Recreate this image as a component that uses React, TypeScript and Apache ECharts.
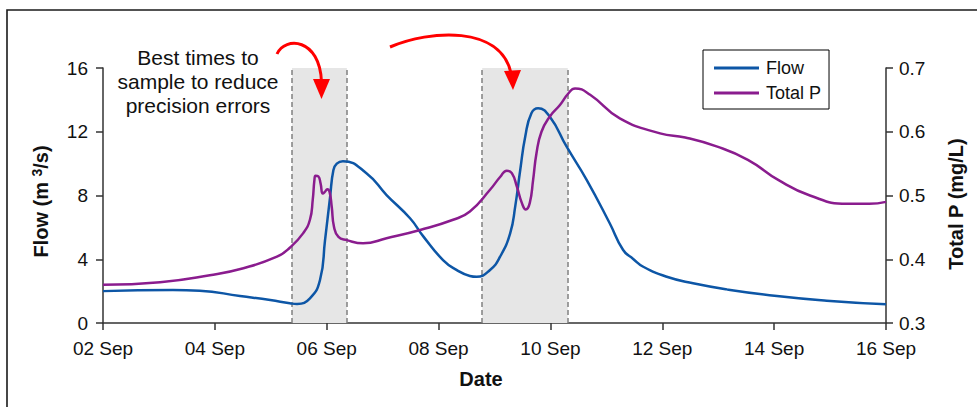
import React, { useEffect, useRef } from "react";
import * as echarts from "echarts";

const FONT = "'Liberation Sans', Arial, sans-serif";

const xTicks = { min: 2, max: 16, interval: 2 };
const flowTicks = { min: 0, max: 16, interval: 4 };
const pTicks = { min: 0.3, max: 0.7, interval: 0.1 };

const flowDays = [2.0, 3.25, 3.73, 4.45, 4.99, 5.34, 5.47, 5.7, 5.88, 5.97, 6.06, 6.12, 6.18, 6.29, 6.71, 7.07, 7.49, 7.73, 8.08, 8.32, 8.56, 8.68, 8.92, 9.1, 9.28, 9.37, 9.46, 9.55, 9.66, 9.78, 9.99, 10.29, 10.65, 11.06, 11.3, 11.48, 11.66, 12.08, 12.55, 13.15, 14.05, 14.94, 16.0];
const flowValues = [2.0, 2.07, 2.03, 1.69, 1.44, 1.24, 1.19, 1.55, 2.7, 5.2, 7.9, 9.6, 10.0, 10.15, 9.4, 8.03, 6.57, 5.42, 3.95, 3.33, 2.95, 2.9, 3.33, 4.16, 5.63, 7.3, 9.6, 11.7, 13.16, 13.47, 12.94, 11.06, 8.97, 6.26, 4.58, 4.02, 3.53, 2.9, 2.49, 2.11, 1.69, 1.4, 1.17];

const pDays = [2.0, 3.02, 3.91, 4.51, 5.11, 5.34, 5.58, 5.7, 5.75, 5.78, 5.8, 5.85, 5.89, 5.93, 5.97, 6.01, 6.05, 6.09, 6.13, 6.21, 6.36, 6.65, 7.07, 7.67, 8.26, 8.56, 8.92, 9.1, 9.22, 9.31, 9.4, 9.49, 9.56, 9.63, 9.69, 9.75, 9.84, 9.99, 10.17, 10.32, 10.44, 10.71, 11.24, 11.96, 12.41, 12.97, 13.53, 14.08, 14.64, 15.3, 15.7, 16.0];
const pValues = [0.36, 0.364, 0.375, 0.386, 0.404, 0.418, 0.441, 0.462, 0.493, 0.524, 0.531, 0.53, 0.519, 0.503, 0.506, 0.51, 0.506, 0.482, 0.451, 0.435, 0.43, 0.425, 0.433, 0.446, 0.462, 0.475, 0.509, 0.529, 0.539, 0.535, 0.514, 0.488, 0.478, 0.488, 0.524, 0.566, 0.6, 0.624, 0.642, 0.66, 0.668, 0.658, 0.621, 0.5975, 0.591, 0.577, 0.556, 0.524, 0.5, 0.487, 0.487, 0.49];

// sampling windows (day of September)
const windows = [
  [5.38, 6.36],
  [8.78, 10.31],
];

const seriesNames = ["Flow", "Total P"];
const annotationLines = ["Best times to", "sample to reduce", "precision errors"];

export default function App() {
  const ref = useRef<HTMLDivElement>(null);

  useEffect(() => {
    document.body.style.margin = "0";
    const chart = echarts.init(ref.current as HTMLDivElement, null, { renderer: "svg" });

    const axisLine = { show: true, lineStyle: { color: "#333", width: 1.5 } };
    const axisTick = { show: true, length: 7, lineStyle: { color: "#333", width: 1.5 } };
    const label = { fontFamily: FONT, fontSize: 19, color: "#111" };

    chart.setOption({
      animation: false,
      backgroundColor: "#fff",
      textStyle: { fontFamily: FONT },
      grid: { left: 103, right: 91, top: 68, bottom: 84, containLabel: false },
      legend: {
        orient: "vertical",
        left: 703,
        top: 50,
        padding: [9, 8, 7, 11],
        itemGap: 7,
        itemWidth: 45,
        itemHeight: 3,
        icon: "rect",
        borderColor: "#000",
        borderWidth: 1,
        textStyle: { fontFamily: FONT, fontSize: 18, color: "#111", padding: [0, 0, 0, 2] },
        data: seriesNames,
      },
      xAxis: {
        type: "value",
        min: xTicks.min,
        max: xTicks.max,
        interval: xTicks.interval,
        axisLine,
        axisTick,
        splitLine: { show: false },
        axisLabel: {
          ...label,
          margin: 16,
          formatter: (v: number) => (v < 10 ? "0" : "") + v + " Sep",
        },
      },
      yAxis: [
        {
          type: "value",
          position: "left",
          min: flowTicks.min,
          max: flowTicks.max,
          interval: flowTicks.interval,
          axisLine,
          axisTick,
          splitLine: { show: false },
          axisLabel: { ...label, margin: 15 },
        },
        {
          type: "value",
          position: "right",
          min: pTicks.min,
          max: pTicks.max,
          interval: pTicks.interval,
          axisLine,
          axisTick,
          splitLine: { show: false },
          axisLabel: { ...label, margin: 13, formatter: (v: number) => v.toFixed(1) },
        },
      ],
      series: [
        {
          name: "windows",
          type: "line",
          data: [],
          z: 1,
          silent: true,
          markArea: {
            silent: true,
            itemStyle: { color: "#e6e6e6" },
            data: windows.map((w) => [{ xAxis: w[0] }, { xAxis: w[1] }]),
          },
          markLine: {
            silent: true,
            symbol: "none",
            z: 1,
            label: { show: false },
            lineStyle: { color: "#808080", type: [5, 3], width: 1.5 },
            data: windows.flat().map((x) => ({ xAxis: x })),
          },
        },
        {
          name: seriesNames[0],
          type: "line",
          yAxisIndex: 0,
          z: 3,
          smooth: 0.5,
          showSymbol: false,
          lineStyle: { color: "#0d56a6", width: 2.5 },
          itemStyle: { color: "#0d56a6" },
          data: flowDays.map((d, i) => [d, flowValues[i]]),
        },
        {
          name: seriesNames[1],
          type: "line",
          yAxisIndex: 1,
          z: 3,
          smooth: 0.5,
          showSymbol: false,
          lineStyle: { color: "#8a1c8e", width: 2.5 },
          itemStyle: { color: "#8a1c8e" },
          data: pDays.map((d, i) => [d, pValues[i]]),
        },
      ],
      graphic: [
        {
          type: "rect",
          z: 100,
          shape: { x: 7, y: 10, width: 1100, height: 600 },
          style: { fill: "none", stroke: "#1a1a1a", lineWidth: 1.6 },
          silent: true,
        },
        {
          type: "text",
          z: 100,
          x: 198,
          y: 81,
          style: {
            text: annotationLines.join("\n"),
            fontFamily: FONT,
            fontSize: 21,
            lineHeight: 24,
            fill: "#111",
            align: "center",
            verticalAlign: "middle",
          },
        },
        {
          type: "text",
          z: 100,
          x: 481,
          y: 378.5,
          style: {
            text: "Date",
            fontFamily: FONT,
            fontSize: 20,
            fontWeight: "bold",
            fill: "#111",
            align: "center",
            verticalAlign: "middle",
          },
        },
        {
          type: "text",
          z: 100,
          x: 41,
          y: 201.5,
          rotation: Math.PI / 2,
          style: {
            text: "{b|Flow (m }{s|3}{b|/s)}",
            align: "center",
            verticalAlign: "middle",
            rich: {
              b: { fontFamily: FONT, fontSize: 20, fontWeight: "bold", fill: "#111", color: "#111" },
              s: { fontFamily: FONT, fontSize: 14, fontWeight: "bold", fill: "#111", color: "#111", verticalAlign: "top", padding: [0, 0, 8, 0] },
            },
          },
        },
        {
          type: "text",
          z: 100,
          x: 956,
          y: 204,
          rotation: Math.PI / 2,
          style: {
            text: "Total P (mg/L)",
            fontFamily: FONT,
            fontSize: 20,
            fontWeight: "bold",
            fill: "#111",
            align: "center",
            verticalAlign: "middle",
          },
        },
        {
          type: "bezierCurve",
          z: 100,
          shape: { x1: 277, y1: 54, cpx1: 285, cpy1: 36, cpx2: 320, cpy2: 38, x2: 321.5, y2: 82 },
          style: { stroke: "#ff0000", lineWidth: 3, fill: "none" },
          silent: true,
        },
        {
          type: "polygon",
          z: 100,
          shape: { points: [[313, 79], [330, 79], [321.5, 99]] },
          style: { fill: "#ff0000" },
          silent: true,
        },
        {
          type: "bezierCurve",
          z: 100,
          shape: { x1: 390, y1: 47, cpx1: 430, cpy1: 30, cpx2: 500, cpy2: 25, x2: 511, y2: 73 },
          style: { stroke: "#ff0000", lineWidth: 3, fill: "none" },
          silent: true,
        },
        {
          type: "polygon",
          z: 100,
          shape: { points: [[504, 71], [521, 70], [513, 90]] },
          style: { fill: "#ff0000" },
          silent: true,
        },
      ],
    });

    return () => chart.dispose();
  }, []);

  return <div ref={ref} style={{ width: 977, height: 407 }} />;
}
